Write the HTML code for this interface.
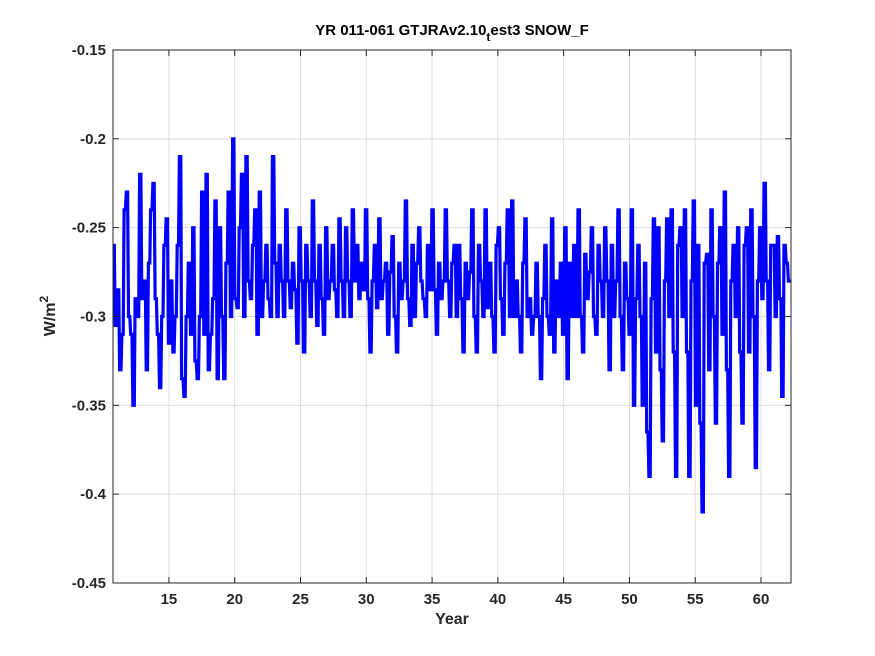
<!DOCTYPE html>
<html><head><meta charset="utf-8"><style>
html,body{margin:0;padding:0;background:#fff;}
svg{display:block;font-family:"Liberation Sans",sans-serif;}
</style></head><body>
<svg id="chart" width="875" height="656" viewBox="0 0 875 656" xmlns="http://www.w3.org/2000/svg">
<rect width="875" height="656" fill="#fff"/>
<g id="grid"></g>
<g id="series"></g>
<rect x="113" y="50" width="678" height="533" fill="none" stroke="#262626" stroke-width="1"/>
<g id="ticks"></g>
<text x="452" y="35" text-anchor="middle" font-size="15" font-weight="bold" fill="#000">YR 011-061 GTJRAv2.10<tspan dy="6" font-size="12">t</tspan><tspan dy="-6">est3 SNOW_F</tspan></text>
<text x="452" y="624" text-anchor="middle" font-size="16" font-weight="bold" fill="#262626">Year</text>
<text transform="translate(55,316) rotate(-90)" text-anchor="middle" font-size="16" font-weight="bold" fill="#262626">W/m<tspan dy="-7" font-size="12">2</tspan></text>
</svg>
<script>
const xTicks=[15,20,25,30,35,40,45,50,55,60];
const yTicks=[-0.15,-0.2,-0.25,-0.3,-0.35,-0.4,-0.45];
const yTickLabels=["-0.15","-0.2","-0.25","-0.3","-0.35","-0.4","-0.45"];
const startYear=10.75;
const endYear=62.25;
const values=[
-0.26,-0.305,-0.285,-0.33,-0.31,-0.24,
-0.23,-0.30,-0.31,-0.35,-0.29,-0.30,
-0.22,-0.29,-0.28,-0.33,-0.27,-0.24,
-0.225,-0.29,-0.31,-0.34,-0.30,-0.26,
-0.245,-0.315,-0.28,-0.32,-0.30,-0.26,
-0.21,-0.335,-0.345,-0.30,-0.27,-0.31,
-0.25,-0.325,-0.335,-0.30,-0.23,-0.31,
-0.22,-0.33,-0.31,-0.29,-0.235,-0.335,
-0.25,-0.30,-0.335,-0.27,-0.23,-0.30,
-0.20,-0.29,-0.295,-0.25,-0.22,-0.30,
-0.21,-0.28,-0.29,-0.26,-0.24,-0.31,
-0.23,-0.30,-0.28,-0.26,-0.29,-0.30,
-0.21,-0.27,-0.30,-0.26,-0.28,-0.30,
-0.24,-0.28,-0.295,-0.27,-0.285,-0.315,
-0.25,-0.28,-0.32,-0.26,-0.28,-0.30,
-0.235,-0.28,-0.305,-0.26,-0.29,-0.31,
-0.25,-0.29,-0.28,-0.26,-0.285,-0.30,
-0.245,-0.28,-0.30,-0.25,-0.28,-0.30,
-0.24,-0.28,-0.26,-0.29,-0.27,-0.285,
-0.24,-0.29,-0.32,-0.28,-0.26,-0.295,
-0.245,-0.29,-0.28,-0.27,-0.31,-0.275,
-0.255,-0.30,-0.32,-0.27,-0.29,-0.28,
-0.235,-0.29,-0.305,-0.26,-0.30,-0.27,
-0.25,-0.28,-0.29,-0.30,-0.26,-0.285,
-0.24,-0.285,-0.31,-0.27,-0.29,-0.28,
-0.24,-0.28,-0.30,-0.27,-0.26,-0.30,
-0.26,-0.29,-0.32,-0.27,-0.29,-0.275,
-0.24,-0.30,-0.32,-0.26,-0.28,-0.30,
-0.24,-0.295,-0.27,-0.30,-0.32,-0.26,
-0.25,-0.29,-0.31,-0.27,-0.24,-0.30,
-0.235,-0.30,-0.28,-0.30,-0.32,-0.27,
-0.245,-0.30,-0.29,-0.31,-0.30,-0.27,
-0.30,-0.335,-0.29,-0.26,-0.30,-0.31,
-0.245,-0.32,-0.28,-0.30,-0.27,-0.31,
-0.25,-0.335,-0.27,-0.30,-0.26,-0.30,
-0.24,-0.30,-0.32,-0.265,-0.29,-0.275,
-0.25,-0.30,-0.31,-0.26,-0.28,-0.30,
-0.25,-0.28,-0.33,-0.26,-0.30,-0.28,
-0.24,-0.30,-0.33,-0.27,-0.29,-0.31,
-0.24,-0.35,-0.29,-0.26,-0.30,-0.35,
-0.27,-0.365,-0.39,-0.29,-0.245,-0.32,
-0.25,-0.33,-0.37,-0.28,-0.245,-0.30,
-0.24,-0.32,-0.39,-0.26,-0.25,-0.30,
-0.24,-0.32,-0.39,-0.28,-0.235,-0.35,
-0.26,-0.36,-0.41,-0.27,-0.265,-0.33,
-0.24,-0.30,-0.36,-0.27,-0.25,-0.31,
-0.23,-0.33,-0.39,-0.28,-0.26,-0.30,
-0.25,-0.32,-0.36,-0.26,-0.25,-0.32,
-0.24,-0.30,-0.385,-0.28,-0.25,-0.29,
-0.225,-0.28,-0.33,-0.26,-0.26,-0.30,
-0.255,-0.29,-0.345,-0.26,-0.27,-0.28,
-0.28
];
const X0=113,X1=791,Y0=50,Y1=583,xMin=10.75,xMax=62.28,yMin=-0.45,yMax=-0.15;
function xs(v){return X0+(v-xMin)/(xMax-xMin)*(X1-X0);}
function ys(v){return Y1-(v-yMin)/(yMax-yMin)*(Y1-Y0);}
const NS="http://www.w3.org/2000/svg";
const grid=document.getElementById('grid'),ticks=document.getElementById('ticks'),series=document.getElementById('series');
function mk(tag,attrs,parent){const e=document.createElementNS(NS,tag);for(const k in attrs)e.setAttribute(k,attrs[k]);parent.appendChild(e);return e;}
xTicks.forEach(t=>{
  const x=xs(t);
  const g=mk('line',{x1:x,x2:x,y1:Y0,y2:Y1,stroke:'#dcdcdc','stroke-width':1},grid);
  
  
  const a=mk('line',{x1:x,x2:x,y1:Y1,y2:Y1-6,stroke:'#262626'},ticks);
  
  
  const b=mk('line',{x1:x,x2:x,y1:Y0,y2:Y0+6,stroke:'#262626'},ticks);
  
  
  const l=mk('text',{x:x,y:604,'text-anchor':'middle','font-size':15,'font-weight':'bold',fill:'#262626'},ticks);
  l.textContent=String(t);
  
  
});
yTicks.forEach((t,i)=>{
  const y=ys(t);
  const g=mk('line',{x1:X0,x2:X1,y1:y,y2:y,stroke:'#dcdcdc','stroke-width':1},grid);
  
  
  const a=mk('line',{x1:X0,x2:X0+6,y1:y,y2:y,stroke:'#262626'},ticks);
  
  
  const b=mk('line',{x1:X1,x2:X1-6,y1:y,y2:y,stroke:'#262626'},ticks);
  
  
  const l=mk('text',{x:106,y:y+5,'text-anchor':'end','font-size':15,'font-weight':'bold',fill:'#262626'},ticks);
  l.textContent=yTickLabels[i];
  
  
});
const step=(endYear-startYear)/(values.length-1);
const ptsArr=[];
values.forEach((v,i)=>{
  const xa=xs(startYear+i*step), xb=xs(startYear+Math.min(i+1,values.length-1)*step);
  const y=ys(v).toFixed(1);
  ptsArr.push(xa.toFixed(1)+','+y);
  if(i<values.length-1) ptsArr.push((xa+(xb-xa)*0.6).toFixed(1)+','+y);
});
const pl=mk('polyline',{points:ptsArr.join(' '),fill:'none',stroke:'#0000ff','stroke-width':3.2,'stroke-linejoin':'miter'},series);


</script>
</body></html>
